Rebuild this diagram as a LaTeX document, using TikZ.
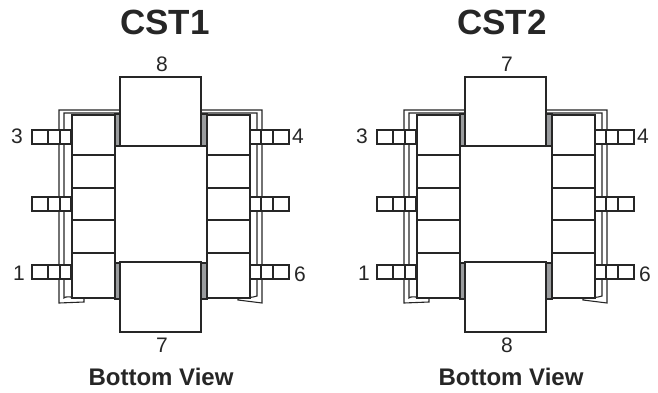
\documentclass[tikz,border=0pt]{standalone}
\usepackage{fontspec}
\setmainfont{Liberation Sans}
\definecolor{ln}{HTML}{262626}
\definecolor{gr}{HTML}{9A9C9E}
\tikzset{
 ol/.style={draw=ln,line width=1.5pt},
 tl/.style={draw=ln,line width=1.1pt},
 gl/.style={fill=gr,draw=ln,line width=1.2pt},
 pinlabel/.style={inner sep=0pt,font=\fontsize{21}{21}\selectfont,text=ln},
 ttlabel/.style={inner sep=0pt,font=\fontsize{35}{35}\selectfont\bfseries,text=ln},
 viewlabel/.style={inner sep=0pt,font=\fontsize{24}{24}\selectfont\bfseries,text=ln},
 pics/pkg/.style n args={6}{code={
  \draw[tl] (120,110)--(59,110)--(59,303)--(84,302)--(84,298);
  \draw[tl] (120,113)--(64,113)--(64,298) .. controls (66,296) and (68,297) .. (84,298);
  \draw[tl] (201,110)--(262,110)--(262,303)--(238,300)--(238,298);
  \draw[tl] (201,113)--(257,113)--(257,296) .. controls (252,298) and (246,297) .. (238,299);
  \draw[gl] (115,114) rectangle (120,146);
  \draw[gl] (201,114) rectangle (207,146);
  \draw[gl] (115,263) rectangle (120,299);
  \draw[gl] (201,263) rectangle (207,299);
  \draw[ol,fill=white] (72,115) rectangle (115,298);
  \draw[ol,fill=white] (207,115) rectangle (250,298);
  \foreach \yy in {155,188,220,253}{
   \draw[ol] (72,\yy)--(115,\yy);
   \draw[ol] (207,\yy)--(250,\yy);
  }
  \draw[ol,fill=white] (120,77) rectangle (201,146);
  \draw[ol,fill=white] (120,262) rectangle (201,332);
  \foreach \yy in {130,197,265}{
   \draw[ol,fill=white] (32,\yy) rectangle (71,\yy+14);
   \draw[tl] (48,\yy)--(48,\yy+14);
   \draw[tl] (60,\yy)--(60,\yy+14);
   \draw[ol,fill=white] (250,\yy) rectangle (289,\yy+14);
   \draw[tl] (261,\yy)--(261,\yy+14);
   \draw[tl] (273,\yy)--(273,\yy+14);
  }
  \node[ttlabel] (t#1) at (#5,22) {#2};
  \node[pinlabel] (top#1) at (162,64) {#3};
  \node[pinlabel] (bot#1) at (162,345) {#4};
  \node[pinlabel] (p3#1) at (17,136) {3};
  \node[pinlabel] (p1#1) at (19,273) {1};
  \node[pinlabel] (p4#1) at (298,136) {4};
  \node[pinlabel] (p6#1) at (300,274) {6};
  \node[viewlabel] (c#1) at (#6,377) {Bottom View};
 }}
}
\begin{document}
\begin{tikzpicture}[x=1pt,y=-1pt]
\useasboundingbox (0,0) rectangle (658,393);
\pic at (0,0) {pkg={a}{CST1}{8}{7}{165}{161}};
\pic at (345,0) {pkg={b}{CST2}{7}{8}{157}{166}};
\end{tikzpicture}
\end{document}
